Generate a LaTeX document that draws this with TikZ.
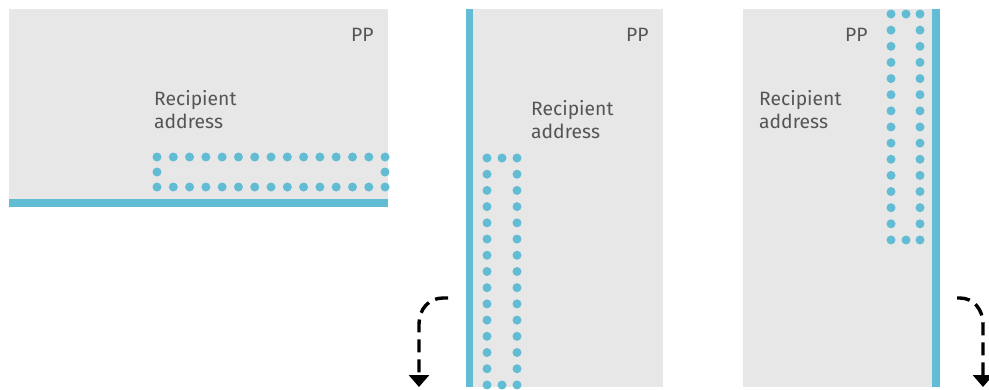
\documentclass[tikz,border=0pt]{standalone}
\usepackage{fontspec}
\setmainfont{Fira Sans}
\usetikzlibrary{arrows.meta}
\definecolor{paper}{HTML}{E7E7E7}
\definecolor{stripe}{HTML}{62BCD4}
\definecolor{ink}{HTML}{555555}
\tikzset{
  x=1pt, y=-1pt,
  envelope/.style={fill=paper, draw=none},
  bar/.style={fill=stripe, draw=none},
  dotmark/.style={fill=stripe, draw=none},
  label/.style={anchor=base west, inner sep=0pt, text=ink, font=\fontsize{19.3}{24}\selectfont},
  turn/.style={draw=black, line width=3.4pt, dash pattern=on 13pt off 7pt, -{Triangle[width=20pt,length=12pt]}},
}
\begin{document}
\begin{tikzpicture}
\useasboundingbox (0,0) rectangle (989,389);
% Panel 1
\fill[envelope] (9,9) rectangle (388,199);
\fill[bar] (9,199) rectangle (388,207);
\node[label] (pp1) at (351,41) {PP};
\node[label] (r1) at (154,105) {Recipient};
\node[label] (a1) at (154,128) {address};
\foreach \i in {0,...,14}{
  \fill[dotmark] ({157+\i*16.29},157) circle (4.5);
  \fill[dotmark] ({157+\i*16.29},187) circle (4.5);
}
\fill[dotmark] (157,172) circle (4.5);
\fill[dotmark] (385,172) circle (4.5);
% Panel 2
\fill[envelope] (466,9) rectangle (663,387);
\fill[bar] (466,9) rectangle (473,387);
\node[label] (pp2) at (626,41) {PP};
\node[label] (r2) at (531,115) {Recipient};
\node[label] (a2) at (531,138) {address};
\foreach \i in {0,...,14}{
  \fill[dotmark] (487,{158+\i*16.21}) circle (4.5);
  \fill[dotmark] (517,{158+\i*16.21}) circle (4.5);
}
\fill[dotmark] (502,158) circle (4.5);
\fill[dotmark] (502,385) circle (4.5);
\coordinate (s2) at (448,298);
\coordinate (e2) at (419,387);
\draw[turn] (s2) -- (443,298) .. controls (429,298) and (419,309) .. (419,324) -- (e2);
% Panel 3
\fill[envelope] (743,9) rectangle (932,387);
\fill[bar] (932,9) rectangle (940,387);
\node[label] (pp3) at (845,41) {PP};
\node[label] (r3) at (759,105) {Recipient};
\node[label] (a3) at (759,128) {address};
\foreach \i in {0,...,14}{
  \fill[dotmark] (891,{14+\i*16.14}) circle (4.5);
  \fill[dotmark] (920,{14+\i*16.14}) circle (4.5);
}
\fill[dotmark] (906,14) circle (4.5);
\fill[dotmark] (906,240) circle (4.5);
\coordinate (s3) at (957,298);
\coordinate (e3) at (983,387);
\draw[turn] (s3) -- (960,298) .. controls (973,298) and (983,309) .. (983,324) -- (e3);
\end{tikzpicture}
\end{document}
